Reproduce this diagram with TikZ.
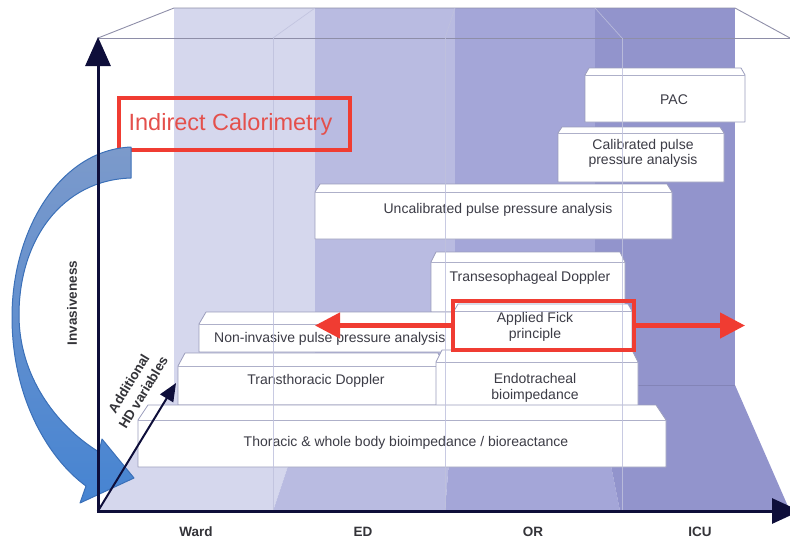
\documentclass[tikz,border=0pt]{standalone}
\usepackage{fontspec}
\setmainfont{Liberation Sans}
\usetikzlibrary{arrows.meta}
\definecolor{bandA}{HTML}{D5D7ED}
\definecolor{bandB}{HTML}{B9BBE1}
\definecolor{bandC}{HTML}{A4A6D8}
\definecolor{bandD}{HTML}{9294CC}
\definecolor{axisnavy}{HTML}{0E0E3A}
\definecolor{redline}{HTML}{F03C32}
\definecolor{redtext}{HTML}{E4504C}
\definecolor{boxedge}{HTML}{9A9CBC}
\definecolor{boxtext}{HTML}{3C3C46}
\definecolor{labeltext}{HTML}{333338}
\definecolor{blueedge}{HTML}{3B70B8}
\definecolor{bluetop}{HTML}{7C9ACB}
\definecolor{bluebot}{HTML}{4684D2}
\definecolor{frameline}{HTML}{8E8EA8}
\definecolor{persp}{HTML}{BFC1DD}
\newcommand\slabbox[6]{%
  \draw[slab] (#1,#4) -- (#1+#6,#3) -- (#2-#6,#3) -- (#2,#4) -- (#2,#5) -- (#1,#5) -- cycle;
  \draw[slabline] (#1,#4) -- (#2,#4);
}
\tikzset{
  slab/.style={fill=white, draw=boxedge, line width=0.8pt, line join=round},
  slabline/.style={draw=boxedge!80, line width=0.6pt},
  boxlabel/.style={font=\fontsize{14}{16}\selectfont, text=boxtext, align=center, inner sep=0pt},
  axislabel/.style={font=\bfseries\fontsize{13.5}{17}\selectfont, text=labeltext, align=center, inner sep=0pt},
  frame/.style={draw=frameline, line width=0.9pt},
  persp/.style={draw=persp, line width=0.7pt, opacity=0.85},
  redbox/.style={draw=redline, line width=4.5pt, inner sep=0pt, fill=none},
  redarrow/.style={draw=redline, line width=4.5pt, -{Triangle[length=25pt,width=25pt]}},
  axis/.style={draw=axisnavy, line width=3pt},
}
\begin{document}
\begin{tikzpicture}[x=1pt, y=-1pt]
\useasboundingbox (0,0) rectangle (790,542);
% back wall bands
\fill[bandA] (174,8) rectangle (315,385);
\fill[bandB] (315,8) rectangle (455,385);
\fill[bandC] (455,8) rectangle (595,385);
\fill[bandD] (595,8) rectangle (735,385);
% floor bands
\fill[bandA] (174,385) -- (315,385) -- (273,511) -- (98,511) -- cycle;
\fill[bandB] (315,385) -- (455,385) -- (445,511) -- (273,511) -- cycle;
\fill[bandC] (455,385) -- (595,385) -- (620,511) -- (445,511) -- cycle;
\fill[bandD] (595,385) -- (735,385) -- (790,511) -- (620,511) -- cycle;
\draw[draw=bandD!80!black, line width=0.5pt, opacity=0.5] (595,385) -- (735,385);
% frame
\draw[frame] (98,38) -- (174,8) -- (735,8) -- (790,38);
\draw[frame] (98,38) -- (790,38);
\draw[persp] (273,38) -- (315,8);
\draw[persp] (445,38) -- (455,8);
\draw[persp] (622,38) -- (595,8);
% boxes
\slabbox{585}{745}{68}{75}{122}{4}
\node[boxlabel] (pac) at (674,100) {PAC};
\slabbox{558}{724}{127}{133}{182}{4}
\node[boxlabel, font=\fontsize{14}{15}\selectfont] (cal) at (643,153) {Calibrated pulse\\pressure analysis};
\slabbox{315}{672}{184}{192}{239}{5}
\node[boxlabel] (uncal) at (498,210) {Uncalibrated pulse pressure analysis};
\slabbox{431}{625}{252}{262}{312}{5}
\node[boxlabel] (tee) at (530,278) {Transesophageal Doppler};
\slabbox{199}{460}{312}{324}{352}{7}
\node[boxlabel, anchor=west] (nipp) at (214,339) {Non-invasive pulse pressure analysis};
\slabbox{454}{632}{304}{311}{350}{4}
\node[boxlabel] (fick) at (535,327) {Applied Fick\\principle};
\slabbox{178}{445}{353}{366}{405}{7}
\node[boxlabel] (ttd) at (316,381) {Transthoracic Doppler};
\slabbox{436}{638}{350}{362}{410}{6}
\node[boxlabel] (endo) at (535,388) {Endotracheal\\bioimpedance};
\slabbox{138}{666}{405}{420}{467}{10}
\node[boxlabel] (thor) at (406,443) {Thoracic \& whole body bioimpedance / bioreactance};
% perspective verticals over boxes
\draw[persp] (273,38) -- (273,511);
\draw[persp] (445,38) -- (445,511);
\draw[persp] (622,38) -- (622,511);
% red highlights
\node[redbox, minimum width=181pt, minimum height=49pt] (fickbox) at (543.5,325.5) {};
\coordinate (lefttip) at (315,325.5);
\coordinate (righttip) at (745,325.5);
\draw[redarrow] (fickbox.west) -- (lefttip);
\draw[redarrow] (fickbox.east) -- (righttip);
\node[redbox, minimum width=231pt, minimum height=52pt] (calbox) at (234.5,124) {};
\node[inner sep=0pt, text=redtext, font=\fontsize{23.5}{26}\selectfont] (caltext) at (230.5,124) {Indirect Calorimetry};
% blue curved arrow
\path[top color=bluetop, bottom color=bluebot, draw=blueedge, line width=1pt, line join=round]
  (131,147) .. controls (60,150) and (12,230) .. (12,317)
  .. controls (12,400) and (50,460) .. (86,486)
  -- (80,503) -- (134,478) -- (102,439) -- (99,452)
  .. controls (55,425) and (19,375) .. (19,315)
  .. controls (19,240) and (62,180) .. (131,178) -- cycle;
% axes
\coordinate (origin) at (98,511);
\coordinate (ytip) at (98,37);
\coordinate (xtip) at (800,511);
\coordinate (ztip) at (176,383);
\draw[axis, -{Triangle[length=29pt,width=25pt]}, shorten <=-1.5pt] (origin) -- (ytip);
\draw[axis, -{Triangle[length=28pt,width=25pt]}, shorten <=-1.5pt] (origin) -- (xtip);
\draw[axis, line width=2pt, -{Triangle[length=18pt,width=15pt]}] (origin) -- (ztip);
% labels
\node[axislabel] (ward) at (196,532) {Ward};
\node[axislabel] (ed) at (363,532) {ED};
\node[axislabel] (or) at (533,532) {OR};
\node[axislabel] (icu) at (700,532) {ICU};
\node[axislabel, rotate=90] (inv) at (72,303) {Invasiveness};
\node[axislabel, rotate=58.7] (hdvar) at (136,388) {Additional\\HD variables};
\end{tikzpicture}
\end{document}
